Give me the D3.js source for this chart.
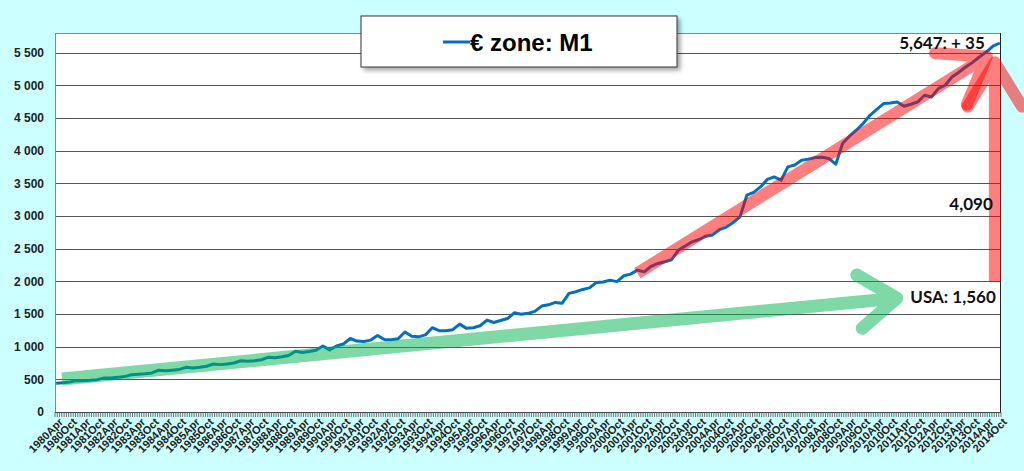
<!DOCTYPE html>
<html>
<head>
<meta charset="utf-8">
<script src="https://cdn.jsdelivr.net/npm/d3@7"></script>
<style>
  html, body { margin: 0; padding: 0; background: #ccffff; }
  svg { display: block; }
</style>
</head>
<body>
<div id="container"></div>
<script>
/* CONSTANTS AND GLOBALS */
const width = 1024,
  height = 471,
  margin = { top: 33, bottom: 59, left: 55, right: 23 };

/* DATA */
const monthNames = ["Jan", "Feb", "Mar", "Apr", "May", "Jun", "Jul", "Aug", "Sep", "Oct", "Nov", "Dec"];
const years = d3.range(1980, 2015);
const stepMonths = 3; // one value every quarter, starting 1980Apr
const yTicks = [0, 500, 1000, 1500, 2000, 2500, 3000, 3500, 4000, 4500, 5000, 5500];
const seriesName = "€ zone: M1";

// € zone M1 (bn): Apr, Jul, Oct, Jan(next year)
const m1 = [
  440, 448, 458, 480,     // 1980
  478, 485, 495, 520,     // 1981
  522, 530, 542, 570,     // 1982
  578, 585, 598, 640,     // 1983
  630, 640, 652, 683,     // 1984
  675, 685, 700, 734,     // 1985
  725, 735, 750, 784,     // 1986
  775, 785, 800, 836,     // 1987
  830, 845, 865, 930,     // 1988
  910, 925, 945, 1010,    // 1989
  950, 1010, 1040, 1125,  // 1990
  1085, 1080, 1100, 1170, // 1991
  1110, 1105, 1120, 1225, // 1992
  1160, 1150, 1180, 1290, // 1993
  1245, 1243, 1260, 1345, // 1994
  1280, 1290, 1320, 1407, // 1995
  1370, 1400, 1430, 1518, // 1996
  1495, 1510, 1540, 1621, // 1997
  1640, 1677, 1665, 1815, // 1998
  1840, 1876, 1900, 1983, // 1999
  1990, 2018, 1995, 2084, // 2000
  2110, 2171, 2145, 2230, // 2001
  2273, 2300, 2330, 2477, // 2002
  2540, 2604, 2640, 2690, // 2003
  2710, 2790, 2830, 2900, // 2004
  2986, 3318, 3360, 3445, // 2005
  3560, 3598, 3547, 3751, // 2006
  3780, 3853, 3870, 3894, // 2007
  3900, 3879, 3792, 4108, // 2008
  4220, 4312, 4414, 4541, // 2009
  4630, 4720, 4730, 4745, // 2010
  4679, 4710, 4745, 4847, // 2011
  4821, 4949, 5000, 5127, // 2012
  5200, 5280, 5350, 5433, // 2013
  5509, 5600, 5647        // 2014
];

// annotations: [month index, value]
const redTrend = [[255, 2125], [408.3, 5440]];
const redRise = [[411.8, 1988], [411.8, 5352]];
const greenUsa = [[2.6, 505], [368.8, 1743]];
const notes = [
  { text: "5,647: + 35", at: [407.4, 5550] },
  { text: "4,090", at: [410.9, 3089] },
  { text: "USA: 1,560", at: [412.2, 1667] }
];

// monthly categories 1980Apr .. 2014Oct
const categories = [];
years.forEach(y => monthNames.forEach((m, k) => {
  if (y === 1980 && k < 3) return;
  if (y === 2014 && k > 9) return;
  categories.push(y + m);
}));

const data = m1.map((v, i) => ({ idx: i * stepMonths, label: categories[i * stepMonths], value: v }));

/* SCALES */
const xScale = d3.scaleLinear()
  .domain([-0.5, categories.length - 0.5])
  .range([margin.left, width - margin.right]);

const yScale = d3.scaleLinear()
  .domain([0, 5800])
  .range([height - margin.bottom, margin.top]);

/* SVG */
const svg = d3.select("#container")
  .append("svg")
  .attr("width", width)
  .attr("height", height);

const defs = svg.append("defs");
defs.append("filter")
  .attr("id", "shadow")
  .attr("x", "-10%").attr("y", "-30%")
  .attr("width", "130%").attr("height", "180%")
  .append("feDropShadow")
  .attr("dx", 3).attr("dy", 3)
  .attr("stdDeviation", 2)
  .attr("flood-color", "#000")
  .attr("flood-opacity", 0.35);

// plot area
svg.append("rect")
  .attr("x", margin.left)
  .attr("y", margin.top)
  .attr("width", width - margin.left - margin.right)
  .attr("height", height - margin.top - margin.bottom)
  .attr("fill", "#fff");

// gridlines
svg.append("g")
  .selectAll("line")
  .data(yTicks.slice(1))
  .join("line")
  .attr("x1", margin.left)
  .attr("x2", width - margin.right)
  .attr("y1", d => Math.round(yScale(d)) + 0.5)
  .attr("y2", d => Math.round(yScale(d)) + 0.5)
  .attr("stroke", "#555")
  .attr("stroke-width", 1.2);

// frame
svg.append("line")
  .attr("x1", margin.left).attr("x2", width - margin.right)
  .attr("y1", margin.top + 0.5).attr("y2", margin.top + 0.5)
  .attr("stroke", "#888");
svg.append("line")
  .attr("x1", width - margin.right - 0.5).attr("x2", width - margin.right - 0.5)
  .attr("y1", margin.top).attr("y2", height - margin.bottom)
  .attr("stroke", "#222");
svg.append("line")
  .attr("x1", margin.left + 0.5).attr("x2", margin.left + 0.5)
  .attr("y1", margin.top).attr("y2", height - margin.bottom)
  .attr("stroke", "#888");

// y axis labels
svg.append("g")
  .selectAll("text")
  .data(yTicks)
  .join("text")
  .attr("x", margin.left - 11)
  .attr("y", d => yScale(d))
  .attr("dy", "0.36em")
  .attr("text-anchor", "end")
  .attr("font-family", "Arial, 'Liberation Sans', sans-serif")
  .attr("font-weight", "bold")
  .attr("font-size", 12)
  .attr("fill", "#222")
  .text(d => d3.format(",")(d).replace(/,/g, " "));

// x axis: monthly ticks
const xAxisGroup = svg.append("g")
  .attr("transform", `translate(0, ${height - margin.bottom})`);

xAxisGroup.append("line")
  .attr("x1", margin.left).attr("x2", width - margin.right)
  .attr("y1", 0.5).attr("y2", 0.5)
  .attr("stroke", "#444");

xAxisGroup.selectAll(".tick")
  .data(d3.range(categories.length + 1))
  .join("line")
  .attr("class", "tick")
  .attr("x1", d => xScale(d - 0.5))
  .attr("x2", d => xScale(d - 0.5))
  .attr("y1", 0)
  .attr("y2", 5)
  .attr("stroke", "#555")
  .attr("stroke-width", 0.8);

xAxisGroup.selectAll(".xlabel")
  .data(categories.map((c, i) => ({ c, i })).filter(d => d.i % 6 === 0))
  .join("text")
  .attr("class", "xlabel")
  .attr("transform", d => `translate(${xScale(d.i) + 5}, 8) rotate(-45)`)
  .attr("dy", "0.35em")
  .attr("text-anchor", "end")
  .attr("font-family", "Arial, 'Liberation Sans', sans-serif")
  .attr("font-weight", "bold")
  .attr("font-size", 11)
  .attr("fill", "#222")
  .text(d => d.c);

// series line
const lineGen = d3.line()
  .x(d => xScale(d.idx))
  .y(d => yScale(d.value));

svg.append("path")
  .datum(data)
  .attr("fill", "none")
  .attr("stroke", "#0070c0")
  .attr("stroke-width", 3)
  .attr("stroke-linejoin", "round")
  .attr("d", lineGen);

// arrows (drawn in a translucent group)
function arrow(pts, color, w, armLen, armAngle) {
  const p0 = [xScale(pts[0][0]), yScale(pts[0][1])];
  const p1 = [xScale(pts[1][0]), yScale(pts[1][1])];
  const ang = Math.atan2(p0[1] - p1[1], p0[0] - p1[0]);
  const g = svg.append("g").attr("opacity", 0.5);
  g.append("line")
    .attr("x1", p0[0]).attr("y1", p0[1])
    .attr("x2", p1[0]).attr("y2", p1[1])
    .attr("stroke", color)
    .attr("stroke-width", w)
    .attr("stroke-linecap", "butt");
  const a1 = [p1[0] + armLen * Math.cos(ang + armAngle), p1[1] + armLen * Math.sin(ang + armAngle)];
  const a2 = [p1[0] + armLen * Math.cos(ang - armAngle), p1[1] + armLen * Math.sin(ang - armAngle)];
  g.append("path")
    .attr("d", `M${a1}L${p1}L${a2}`)
    .attr("fill", "none")
    .attr("stroke", color)
    .attr("stroke-width", w)
    .attr("stroke-linecap", "round")
    .attr("stroke-linejoin", "round");
}

arrow(greenUsa, "#00b450", 13, 46, 0.62);
arrow(redTrend, "#ff0000", 12, 52, 0.62);
arrow(redRise, "#ff0000", 12, 52, 0.55);

// annotation texts
svg.append("g")
  .selectAll("text")
  .data(notes)
  .join("text")
  .attr("x", d => xScale(d.at[0]))
  .attr("y", d => yScale(d.at[1]))
  .attr("text-anchor", "end")
  .attr("font-family", "Lato, 'Open Sans', sans-serif")
  .attr("font-weight", "bold")
  .attr("font-size", 17)
  .attr("fill", "#111")
  .text(d => d.text);

// legend
const legend = svg.append("g");
legend.append("rect")
  .attr("x", 361).attr("y", 16)
  .attr("width", 316).attr("height", 51)
  .attr("fill", "#fff")
  .attr("stroke", "#333")
  .attr("filter", "url(#shadow)");
legend.append("line")
  .attr("x1", 443).attr("x2", 470)
  .attr("y1", 42).attr("y2", 42)
  .attr("stroke", "#0070c0")
  .attr("stroke-width", 3);
legend.append("text")
  .attr("x", 470)
  .attr("y", 42)
  .attr("dy", "0.36em")
  .attr("font-family", "Arial, 'Liberation Sans', sans-serif")
  .attr("font-weight", "bold")
  .attr("font-size", 24)
  .attr("fill", "#000")
  .text(seriesName);
</script>
</body>
</html>
